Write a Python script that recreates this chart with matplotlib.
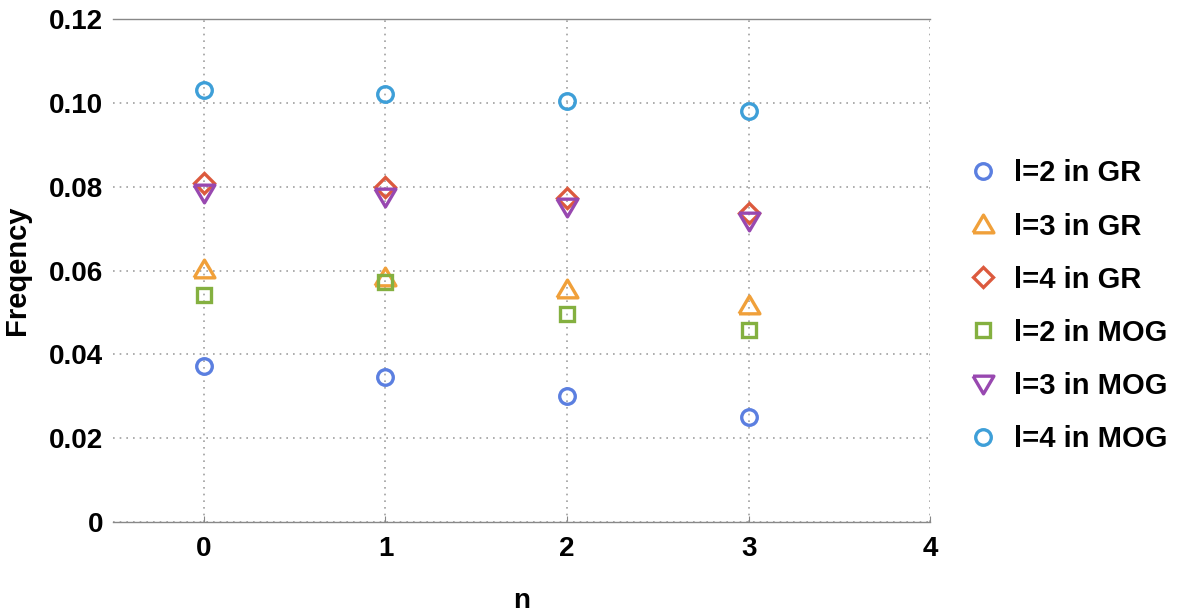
import matplotlib
matplotlib.use("Agg")
import matplotlib.pyplot as plt

plt.rcParams["font.family"] = ["Liberation Sans", "DejaVu Sans"]
plt.rcParams["font.weight"] = "bold"

# ── data ──────────────────────────────────────────────────────
n = [0, 1, 2, 3]
gr_l2  = [0.0372, 0.0346, 0.0301, 0.0250]
gr_l3  = [0.0604, 0.0584, 0.0556, 0.0518]
gr_l4  = [0.0809, 0.0799, 0.0773, 0.0737]
mog_l2 = [0.0542, 0.0573, 0.0496, 0.0458]
mog_l3 = [0.0785, 0.0775, 0.0751, 0.0718]
mog_l4 = [0.1030, 0.1021, 0.1004, 0.0980]

labels = ["l=2 in GR", "l=3 in GR", "l=4 in GR",
          "l=2 in MOG", "l=3 in MOG", "l=4 in MOG"]

tri_up   = [(-1, -0.8), (1, -0.8), (0, 0.9), (-1, -0.8)]
tri_down = [(-1, 0.8), (1, 0.8), (0, -0.9), (-1, 0.8)]

series = [
    (gr_l2,  "#5b7fe0", "o",      11.2),
    (gr_l3,  "#f0a03a", tri_up,   15),
    (gr_l4,  "#dc5a3e", "D",      10.2),
    (mog_l2, "#84b040", "s",      10.6),
    (mog_l3, "#9848b0", tri_down, 15),
    (mog_l4, "#3e9fd8", "o",      11.2),
]

# ── plot ──────────────────────────────────────────────────────
fig = plt.figure(figsize=(11.82, 6.16), dpi=100)
ax = fig.add_axes([0.0956, 0.1526, 0.6916, 0.8165])

for (vals, color, marker, ms), lab in zip(series, labels):
    ax.plot(n, vals, linestyle="none", marker=marker, markersize=ms,
            markerfacecolor="none", markeredgecolor=color,
            markeredgewidth=2.4, label=lab)

ax.set_xlim(-0.5, 4)
ax.set_ylim(0, 0.12)
ax.set_xticks([0, 1, 2, 3, 4])
ax.set_yticks([0, 0.02, 0.04, 0.06, 0.08, 0.10, 0.12])
ax.set_yticklabels(["0", "0.02", "0.04", "0.06", "0.08", "0.10", "0.12"])

ax.grid(True, linestyle=(0, (1, 3)), color="#a0a0a0", linewidth=1.2)
for side in ["left", "right"]:
    ax.spines[side].set_visible(False)
for side in ["top", "bottom"]:
    ax.spines[side].set_color("#888888")
    ax.spines[side].set_linewidth(1.0)

ax.tick_params(axis="y", length=0, pad=7, labelsize=20)
ax.tick_params(axis="x", direction="in", length=4, color="#888888",
               pad=10, labelsize=20)

ax.set_xlabel("n", fontsize=20, fontweight="bold", labelpad=19)
ax.set_ylabel("Freqency", fontsize=21, fontweight="bold", labelpad=13)

ax.legend(loc="center left", bbox_to_anchor=(0.82, 0.503),
          bbox_transform=fig.transFigure, frameon=False, fontsize=21,
          handlelength=0.95, handletextpad=0.6, labelspacing=0.86,
          borderpad=0, borderaxespad=0)

plt.savefig("out.png", dpi=100)
